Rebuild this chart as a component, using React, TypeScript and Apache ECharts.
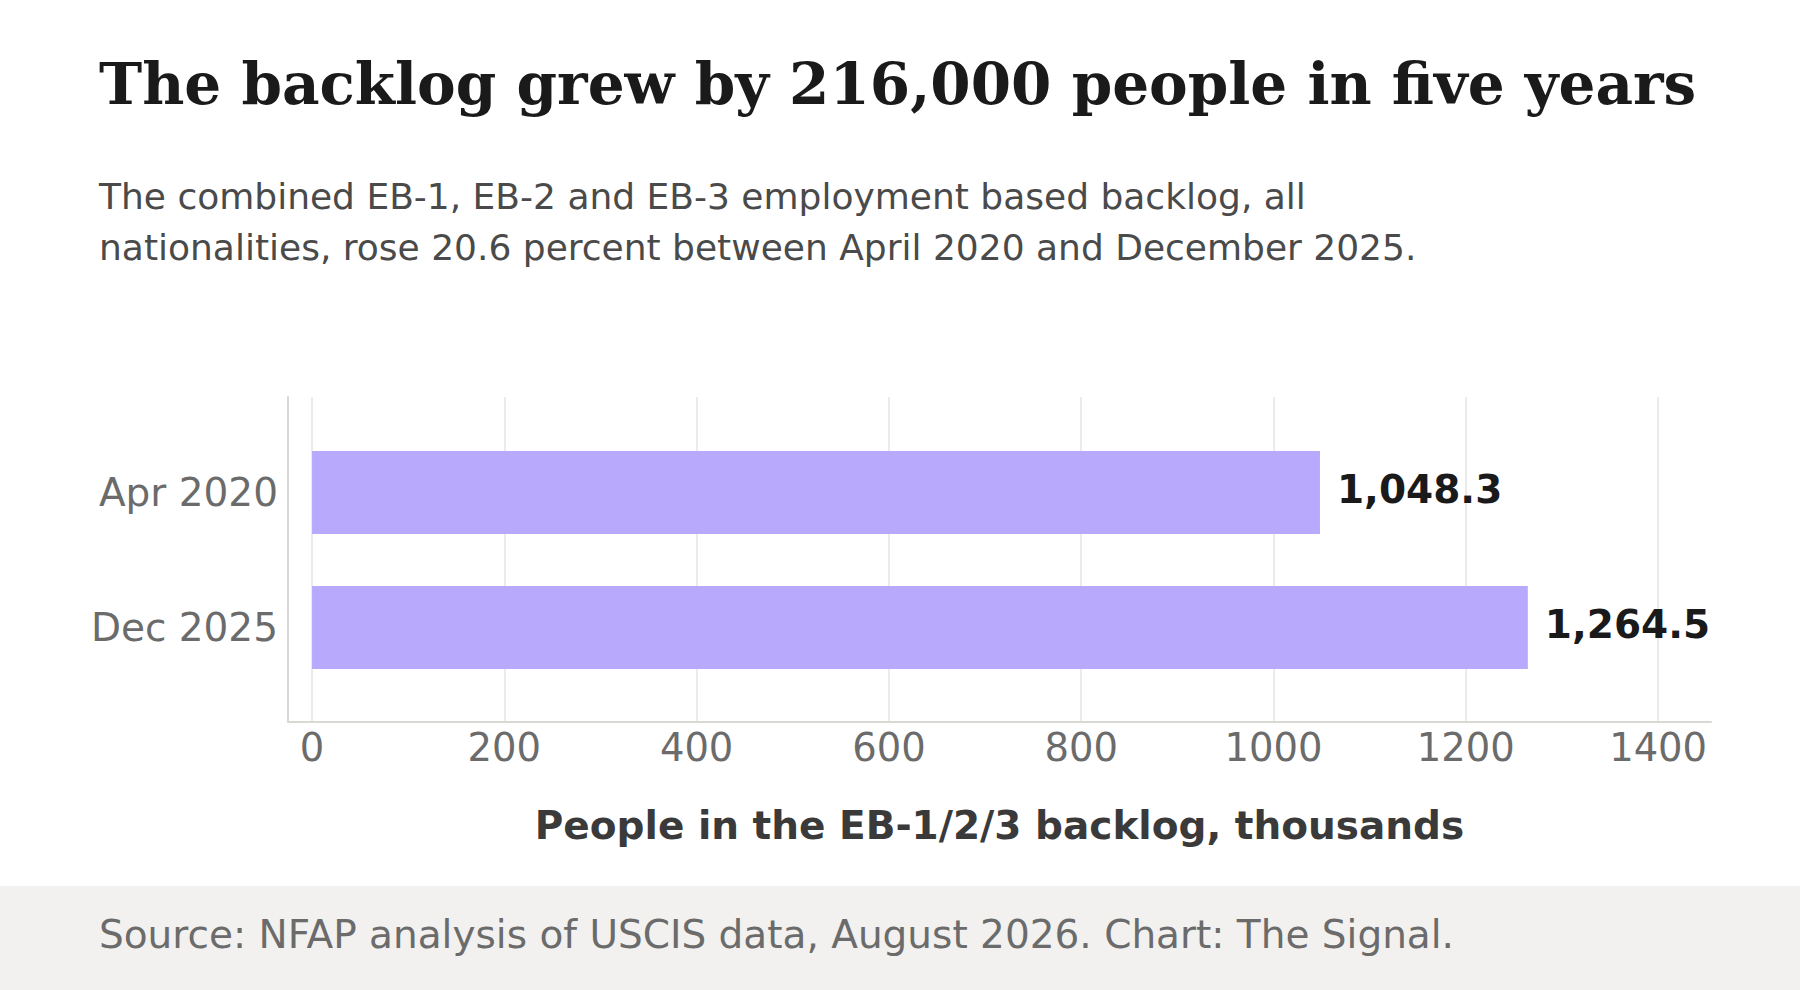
import React, { useEffect, useRef } from 'react'
import * as echarts from 'echarts'

// data
const categories = ['Apr 2020', 'Dec 2025']
const backlog = [1048.3, 1264.5]
const xTicks = [0, 200, 400, 600, 800, 1000, 1200, 1400]

const titleText = 'The backlog grew by 216,000 people in five years'
const subLines = [
    'The combined EB-1, EB-2 and EB-3 employment based backlog, all',
    'nationalities, rose 20.6 percent between April 2020 and December 2025.',
]
const sourceText = 'Source: NFAP analysis of USCIS data, August 2026. Chart: The Signal.'
const axisTitle = 'People in the EB-1/2/3 backlog, thousands'

const SANS = '"DejaVu Sans", sans-serif'
const SERIF = '"DejaVu Serif", serif'

const App = () => {
    const chart: any = useRef()

    useEffect(() => {
        const myChart = echarts.init(chart.current, null, { renderer: 'svg' })
        const fmt = (v: number) =>
            v.toLocaleString('en-US', { minimumFractionDigits: 1, maximumFractionDigits: 1 })

        myChart.setOption({
            animation: false,
            backgroundColor: '#ffffff',
            graphic: [
                {
                    type: 'rect',
                    z: -10,
                    shape: { x: 0, y: 886, width: 1800, height: 104 },
                    style: { fill: '#f2f1ef' },
                },
                {
                    type: 'text',
                    style: {
                        text: titleText, x: 99, y: 84,
                        fontFamily: SERIF, fontWeight: 'bold', fontSize: 58,
                        fill: '#1a1a1a', verticalAlign: 'middle',
                    },
                },
                ...subLines.map((t, i) => ({
                    type: 'text',
                    style: {
                        text: t, x: 99, y: 196 + i * 51,
                        fontFamily: SANS, fontSize: 36,
                        fill: '#4a4a4a', verticalAlign: 'middle',
                    },
                })),
                {
                    type: 'text',
                    style: {
                        text: sourceText, x: 99, y: 934,
                        fontFamily: SANS, fontSize: 39,
                        fill: '#6b6b6b', verticalAlign: 'middle',
                    },
                },
            ],
            grid: [
                // frame: axis lines, gridlines, ticks
                { left: 288, right: 89, top: 397, height: 325 },
                // bars
                { left: 288, right: 89, top: 425, height: 270 },
            ],
            xAxis: [
                {
                    gridIndex: 0,
                    type: 'value',
                    min: -25,
                    max: 1455,
                    axisLine: { show: true, onZero: false, lineStyle: { color: '#d9d8d4', width: 2 } },
                    axisTick: { show: false, customValues: xTicks },
                    axisLabel: {
                        customValues: xTicks,
                        formatter: (v: number) => String(v),
                        margin: 6,
                        fontFamily: SANS,
                        fontSize: 38.5,
                        color: '#6b6b6b',
                    },
                    splitLine: { show: true, lineStyle: { color: '#e5e5e1', width: 1.5 } },
                    name: axisTitle,
                    nameLocation: 'middle',
                    nameGap: 84,
                    nameTextStyle: {
                        fontFamily: SANS,
                        fontSize: 39,
                        fontWeight: 'bold',
                        color: '#3a3a3a',
                    },
                },
                {
                    gridIndex: 1,
                    type: 'value',
                    min: -25,
                    max: 1455,
                    show: false,
                },
            ],
            yAxis: [
                {
                    gridIndex: 0,
                    type: 'value',
                    min: 0,
                    max: 1,
                    axisLine: { show: true, onZero: false, lineStyle: { color: '#d9d8d4', width: 2 } },
                    axisTick: { show: false },
                    axisLabel: { show: false },
                    splitLine: { show: false },
                },
                {
                    gridIndex: 1,
                    type: 'category',
                    inverse: true,
                    data: categories,
                    axisLine: { show: false },
                    axisTick: { show: false },
                    splitLine: { show: false },
                    axisLabel: {
                        margin: 10,
                        fontFamily: SANS,
                        fontSize: 39,
                        color: '#6b6b6b',
                    },
                },
            ],
            series: [
                {
                    type: 'bar',
                    xAxisIndex: 1,
                    yAxisIndex: 1,
                    data: backlog,
                    barWidth: 83,
                    itemStyle: { color: '#b8a9fd' },
                    label: {
                        show: true,
                        position: 'right',
                        distance: 17,
                        offset: [0, -3],
                        formatter: (p: any) => fmt(p.value),
                        fontFamily: SANS,
                        fontSize: 39,
                        fontWeight: 'bold',
                        color: '#1a1a1a',
                    },
                },
            ],
        })
        return () => {
            myChart.dispose()
        }
    }, [])

    return (
        <div
            ref={chart}
            style={{ position: 'fixed', left: 0, top: 0, width: 1800, height: 990 }}
        />
    )
}

export default App
